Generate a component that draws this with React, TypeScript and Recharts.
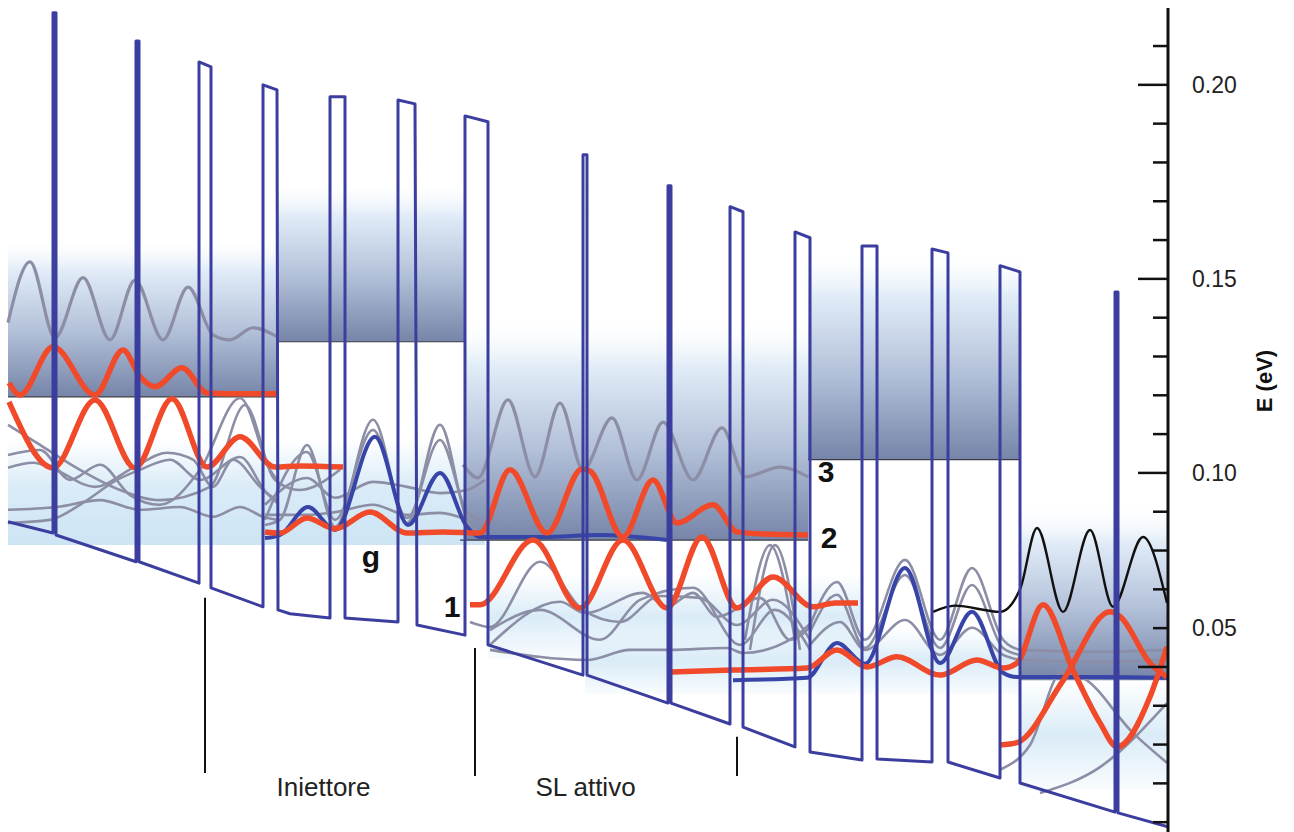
import React from 'react';
import { ComposedChart, Line, XAxis, YAxis, ReferenceArea, ReferenceLine, ReferenceDot } from 'recharts';

// x: position (nm), y: energy (meV); axis labels shown in eV
const bandProfile = [
  [0.8, 87.4], [5.3, 84.5], [5.3, 218.6], [5.6, 218.6], [5.6, 84.0],
  [13.6, 77.1], [13.6, 211.3], [13.9, 211.3], [13.9, 77.1],
  [19.9, 71.6], [19.9, 205.9], [21.1, 204.6], [21.1, 70.4],
  [26.3, 65.5], [26.3, 200.0], [27.7, 198.7], [27.8, 64.7], [29.0, 63.7],
  [33.0, 62.6], [33.0, 196.9], [34.5, 196.9], [34.5, 62.6],
  [39.8, 61.6], [39.8, 196.1], [41.5, 195.1], [41.7, 60.8],
  [46.5, 58.2], [46.5, 192.0], [48.8, 190.5], [48.8, 55.7],
  [58.3, 47.9], [58.3, 182.0], [58.7, 182.0], [58.7, 47.9],
  [66.8, 40.7], [66.8, 174.0], [67.1, 174.0], [67.1, 40.7],
  [73.0, 35.3], [73.0, 168.6], [74.3, 167.3], [74.3, 34.5],
  [79.5, 29.4], [79.5, 162.1], [81.0, 160.6], [81.0, 28.1],
  [86.2, 26.0], [86.2, 158.5], [87.7, 158.5], [87.7, 26.3],
  [93.2, 25.5], [93.2, 157.7], [94.8, 156.7], [94.8, 25.5],
  [100.0, 21.4], [100.0, 153.4], [102.0, 151.8], [102.0, 20.1],
  [111.5, 12.6], [111.5, 146.6], [111.8, 146.6], [111.8, 12.4],
  [116.8, 8.8],
];

const redUpperLeft = [[0.9, 123.2], [2.0, 120.1], [5.3, 132.5], [9.5, 120.1], [12.3, 131.7], [14.0, 124.8], [15.5, 122.2], [18.2, 127.1], [20.7, 120.6], [23.0, 120.4], [27.7, 120.4]];
const redLowerLeft = [[0.9, 118.3], [5.3, 101.3], [9.5, 118.8], [13.5, 101.3], [17.2, 119.1], [20.7, 101.5], [24.0, 109.3], [27.5, 101.5], [30.0, 101.8], [34.3, 101.5]];
const grayTopLeft = [[0.8, 138.7], [3.0, 154.4], [5.5, 134.8], [8.3, 150.3], [11.0, 134.3], [13.5, 149.7], [16.3, 134.3], [18.8, 147.9], [21.3, 135.6], [23.0, 134.3], [25.3, 137.4], [27.7, 135.1]];
const redG2 = [[26.5, 84.8], [28.0, 84.5], [30.7, 88.4], [33.5, 85.6], [37.0, 89.9], [40.7, 84.5], [44.3, 84.8], [48.0, 84.5], [51.0, 100.8], [54.7, 84.5], [58.2, 101.0], [59.0, 100.5], [62.3, 83.5], [65.3, 98.2], [67.7, 87.1], [71.3, 91.8], [73.7, 84.8], [76.0, 84.3], [80.8, 84.0]];
const blueG = [[26.5, 83.2], [28.0, 84.0], [30.8, 91.2], [33.5, 85.3], [37.5, 109.3], [40.8, 86.6], [44.0, 100.0], [46.7, 86.1], [48.0, 83.5], [54.3, 83.5], [60.0, 84.0], [66.7, 82.7]];
const red1 = [[47.0, 66.0], [48.0, 66.0], [53.3, 82.7], [58.0, 65.2], [62.3, 82.7], [66.7, 65.2], [70.2, 83.5], [73.7, 65.2], [77.3, 73.2], [81.3, 65.5], [83.5, 66.5], [85.8, 66.5]];
const gray3 = [[46.3, 102.1], [47.8, 98.7], [50.8, 118.8], [53.5, 99.0], [56.0, 118.0], [58.3, 100.8], [61.2, 114.2], [63.7, 98.2], [66.3, 113.1], [69.3, 98.2], [72.2, 111.6], [74.5, 99.0], [78.0, 101.5], [80.8, 99.0]];
const redRightA = [[67.2, 48.7], [73.3, 49.2], [80.7, 49.7], [83.7, 54.4], [86.7, 50.0], [89.7, 52.6], [94.0, 47.9], [97.7, 51.8], [100.3, 49.7], [101.7, 51.0], [104.3, 66.0], [107.3, 49.2], [110.0, 35.6], [111.7, 29.4], [115.0, 42.3], [116.7, 55.2]];
const redRightB = [[100.0, 29.9], [101.7, 30.5], [106.3, 46.5], [111.0, 64.2], [112.0, 63.0], [115.0, 51.0], [116.7, 47.4]];
const blueRight = [[73.3, 46.6], [80.7, 47.2], [83.7, 56.2], [86.5, 50.8], [90.5, 75.5], [94.0, 51.0], [97.2, 64.2], [100.3, 48.5], [101.7, 47.4], [110.0, 47.4], [116.7, 47.2]];
const blackRight = [[93.3, 64.2], [95.5, 65.8], [100.0, 64.2], [102.0, 70.0], [103.7, 85.8], [106.3, 64.2], [109.0, 85.3], [111.3, 65.5], [114.3, 83.5], [116.7, 66.5]];

const grayLeft1 = [[0.8, 101.3], [3.3, 102.6], [5.5, 100.8], [9.5, 96.4], [13.3, 101.3], [16.7, 105.2], [19.3, 103.4], [21.3, 96.4], [23.3, 103.4], [26.0, 96.4], [27.7, 92.3]];
const grayLeft2 = [[0.8, 90.5], [5.7, 91.2], [10.0, 93.0], [14.0, 90.5], [18.0, 91.2], [21.3, 88.7], [24.0, 91.2], [26.3, 88.7], [27.7, 87.9]];
const grayLeft3 = [[0.8, 87.1], [5.0, 87.9], [8.3, 92.3], [11.7, 98.2], [14.0, 100.8], [17.0, 103.4], [20.0, 98.2], [24.0, 104.1], [26.7, 94.8], [27.7, 93.0]];
const grayLeft4 = [[0.8, 104.6], [4.0, 105.9], [7.0, 98.2], [10.0, 102.1], [13.0, 94.3], [16.0, 91.8], [20.0, 100.8], [24.0, 119.3], [27.0, 100.8], [27.7, 98.2]];
const grayLeft5 = [[0.8, 112.4], [4.0, 107.2], [8.0, 100.8], [12.0, 95.6], [16.0, 93.0], [21.0, 96.4], [24.5, 117.5], [27.5, 98.2], [30.0, 95.6], [34.0, 100.8]];
const grayG1 = [[26.5, 86.6], [28.0, 87.9], [30.7, 107.2], [33.5, 86.1], [37.3, 113.7], [40.7, 87.1], [44.0, 112.4], [46.7, 87.9], [48.0, 84.5]];
const grayG2 = [[26.5, 87.9], [30.7, 105.4], [33.5, 87.9], [37.3, 111.1], [40.7, 88.4], [44.0, 108.5], [46.7, 89.9], [48.0, 87.9]];
const grayG3 = [[26.5, 91.8], [30.7, 98.7], [33.5, 93.6], [37.3, 97.7], [40.7, 96.4], [44.0, 94.8], [46.7, 95.6], [48.5, 98.2]];
const grayG4 = [[26.5, 89.2], [30.7, 89.2], [33.5, 89.9], [37.3, 91.8], [40.7, 89.2], [44.0, 89.7], [46.7, 87.9]];
const graySL1 = [[47.0, 61.6], [49.0, 60.3], [54.0, 77.1], [58.3, 64.7], [62.0, 61.6], [66.0, 68.3], [70.0, 67.8], [73.7, 60.8], [77.3, 67.3], [81.0, 57.0]];
const graySL2 = [[49.0, 55.7], [56.0, 66.8], [58.5, 63.9], [64.3, 69.1], [66.7, 65.5], [69.3, 69.1], [71.7, 62.9], [76.0, 67.8], [79.0, 57.0], [81.2, 60.8]];
const graySL3 = [[49.0, 54.4], [58.7, 51.8], [63.0, 54.4], [67.0, 54.4], [72.7, 54.9], [74.3, 53.6], [79.3, 57.5], [81.2, 61.6]];
const graySL4 = [[49.0, 59.5], [54.0, 64.7], [60.0, 57.0], [64.0, 67.3], [69.3, 70.4], [74.0, 55.7], [77.5, 64.7], [81.0, 54.4]];
const graySL5 = [[74.5, 57.0], [77.0, 81.4], [79.5, 57.0]];
const graySL6 = [[75.0, 54.4], [77.5, 81.4], [80.0, 54.4]];
const grayR1 = [[81.0, 60.8], [83.7, 71.9], [86.5, 57.0], [90.5, 77.6], [94.0, 57.0], [97.2, 75.5], [100.3, 57.0], [102.0, 54.4]];
const grayR2 = [[81.0, 59.0], [83.7, 68.6], [86.5, 54.9], [90.5, 73.7], [94.0, 54.9], [97.2, 71.1], [100.3, 54.9], [102.0, 53.1]];
const grayR3 = [[81.0, 55.7], [84.0, 61.6], [86.5, 54.4], [90.5, 62.1], [94.0, 53.1], [97.2, 60.1], [100.3, 53.1], [102.0, 51.8]];
const grayF1 = [[102.0, 54.4], [110.0, 53.9], [116.7, 54.4]];
const grayF2 = [[102.0, 51.8], [110.0, 51.3], [116.7, 51.8]];
const grayF3 = [[100.0, 23.5], [103.0, 29.9], [106.2, 48.7], [108.3, 47.2], [113.3, 33.0], [116.7, 25.3]];
const grayF4 = [[104.0, 17.5], [110.0, 24.2], [116.7, 40.7]];

const grayCurves = [grayLeft1, grayLeft2, grayLeft3, grayLeft4, grayLeft5, grayG1, grayG2, grayG3, grayG4, graySL1, graySL2, graySL3, graySL4, graySL5, graySL6, grayR1, grayR2, grayR3, grayF1, grayF2, grayF3, grayF4];

// shaded minibands: [x1, x2, yBottom, yTop]
const darkBands = [[0.8, 27.7, 119.6, 161.3], [27.7, 46.6, 133.8, 175.5], [46.6, 80.8, 82.7, 140.0], [80.8, 102.0, 103.4, 157.5], [102.0, 116.8, 46.6, 92.0]];
const lightBands = [[0.8, 48.5, 81.4, 108.5]];
const softBands = [[48.8, 86.0, 52.0, 74.0], [58.5, 102.0, 43.0, 60.0], [102.0, 116.8, 18.3, 46.6]];
const bandEdges = [[0.8, 27.7, 119.6], [27.7, 46.6, 133.8], [46.0, 80.8, 82.7], [80.8, 102.0, 103.4]];
const periodMarks = [[20.5, 67.8, 22.7], [47.5, 54.9, 21.9], [73.7, 32.0, 21.9]];
const stateLabels = [['g', 37.1, 78.4], ['1', 45.2, 65.7], ['3', 82.6, 100.3], ['2', 82.9, 83.5]];
const regionLabels = [['Iniettore', 32.35, 19.1], ['SL attivo', 58.55, 19.1]];

const yTicks = [10, 20, 30, 40, 50, 60, 70, 80, 90, 100, 110, 120, 130, 140, 150, 160, 170, 180, 190, 200, 210];
const tickLabels: Record<number, string> = { 200: '0.20', 150: '0.15', 100: '0.10', 60: '0.05' };
const majorTicks = [200, 150, 100, 50];

const FONT = '"Liberation Sans", Arial, Helvetica, sans-serif';
const toPts = (arr: number[][]) => arr.map(([x, y]) => ({ x, y }));

const AxisTick = (props: any) => {
  const { x, y, payload } = props;
  const v = payload.value;
  const len = majorTicks.includes(v) ? 30 : 15;
  const lbl = tickLabels[v];
  return (
    <g>
      <line x1={x - len} y1={y} x2={x} y2={y} stroke="#111" strokeWidth={2.5} />
      {lbl && (
        <text x={x + 24} y={y} dy="0.36em" fontSize={23} fontFamily={FONT} fill="#222" textAnchor="start">
          {lbl}
        </text>
      )}
    </g>
  );
};

const ELabel = (props: any) => {
  const vb = props.viewBox || { x: 1168, y: 8 };
  const cx = vb.x + 96;
  const cy = vb.y + 373;
  return (
    <text x={cx} y={cy} transform={`rotate(-90 ${cx} ${cy})`} textAnchor="middle" dominantBaseline="central" fontSize={22} fontWeight={700} fontFamily={FONT} fill="#111">
      E (eV)
    </text>
  );
};

export default function App() {
  return (
    <div style={{ position: 'absolute', left: 0, top: 0, width: 1294, height: 832, background: '#fff' }}>
      <ComposedChart width={1294} height={832} margin={{ top: 8, right: 0, bottom: 0, left: 0 }}>
        <defs>
          <linearGradient id="gDark" x1="0" y1="0" x2="0" y2="1">
            <stop offset="0" stopColor="#ffffff" stopOpacity={0} />
            <stop offset="0.22" stopColor="#dfebf7" stopOpacity={0.95} />
            <stop offset="0.6" stopColor="#b1bfd8" stopOpacity={1} />
            <stop offset="1" stopColor="#7685a8" stopOpacity={1} />
          </linearGradient>
          <linearGradient id="gLight" x1="0" y1="0" x2="0" y2="1">
            <stop offset="0" stopColor="#d3e8f6" stopOpacity={0} />
            <stop offset="0.45" stopColor="#d3e8f6" stopOpacity={0.85} />
            <stop offset="1" stopColor="#cde4f4" stopOpacity={1} />
          </linearGradient>
          <linearGradient id="gSoft" x1="0" y1="0" x2="0" y2="1">
            <stop offset="0" stopColor="#d6eaf7" stopOpacity={0} />
            <stop offset="0.5" stopColor="#d3e8f6" stopOpacity={0.85} />
            <stop offset="1" stopColor="#d6eaf7" stopOpacity={0.15} />
          </linearGradient>
        </defs>
        <XAxis dataKey="x" type="number" domain={[0, 116.8]} hide allowDataOverflow />
        <YAxis
          orientation="right"
          type="number"
          domain={[7.47, 219.8]}
          ticks={yTicks}
          interval={0}
          width={126}
          allowDataOverflow
          axisLine={{ stroke: '#111', strokeWidth: 3 }}
          tickLine={false}
          tickSize={0}
          tickMargin={0}
          tick={<AxisTick />}
          label={{ content: ELabel }}
        />
        {lightBands.map(([x1, x2, y1, y2], i) => (
          <ReferenceArea key={'l' + i} x1={x1} x2={x2} y1={y1} y2={y2} fill="url(#gLight)" fillOpacity={1} stroke="none" />
        ))}
        {softBands.map(([x1, x2, y1, y2], i) => (
          <ReferenceArea key={'s' + i} x1={x1} x2={x2} y1={y1} y2={y2} fill="url(#gSoft)" fillOpacity={1} stroke="none" />
        ))}
        {darkBands.map(([x1, x2, y1, y2], i) => (
          <ReferenceArea key={'d' + i} x1={x1} x2={x2} y1={y1} y2={y2} fill="url(#gDark)" fillOpacity={1} stroke="none" />
        ))}
        {bandEdges.map(([x1, x2, y], i) => (
          <ReferenceLine key={'e' + i} segment={[{ x: x1, y }, { x: x2, y }]} stroke="#3a3a44" strokeWidth={1.2} />
        ))}
        {periodMarks.map(([x, y1, y2], i) => (
          <ReferenceLine key={'p' + i} segment={[{ x, y: y1 }, { x, y: y2 }]} stroke="#111" strokeWidth={2} />
        ))}
        {grayCurves.map((c, i) => (
          <Line key={'g' + i} data={toPts(c)} dataKey="y" type="monotone" stroke="#8c8ea6" strokeWidth={2.6} dot={false} activeDot={false} isAnimationActive={false} />
        ))}
        <Line data={toPts(grayTopLeft)} dataKey="y" type="monotone" stroke="#8c8ea6" strokeWidth={3.2} dot={false} isAnimationActive={false} />
        <Line data={toPts(gray3)} dataKey="y" type="monotone" stroke="#8c8ea6" strokeWidth={3.2} dot={false} isAnimationActive={false} />
        <Line data={toPts(blackRight)} dataKey="y" type="monotone" stroke="#111111" strokeWidth={2.4} dot={false} isAnimationActive={false} />
        <Line data={toPts(blueG)} dataKey="y" type="monotone" stroke="#3744a8" strokeWidth={4} dot={false} isAnimationActive={false} />
        <Line data={toPts(blueRight)} dataKey="y" type="monotone" stroke="#3744a8" strokeWidth={4} dot={false} isAnimationActive={false} />
        <Line data={toPts(redUpperLeft)} dataKey="y" type="monotone" stroke="#f04a2a" strokeWidth={5.5} dot={false} isAnimationActive={false} />
        <Line data={toPts(redLowerLeft)} dataKey="y" type="monotone" stroke="#f04a2a" strokeWidth={5.5} dot={false} isAnimationActive={false} />
        <Line data={toPts(redG2)} dataKey="y" type="monotone" stroke="#f04a2a" strokeWidth={5.5} dot={false} isAnimationActive={false} />
        <Line data={toPts(red1)} dataKey="y" type="monotone" stroke="#f04a2a" strokeWidth={5.5} dot={false} isAnimationActive={false} />
        <Line data={toPts(redRightA)} dataKey="y" type="monotone" stroke="#f04a2a" strokeWidth={5.5} dot={false} isAnimationActive={false} />
        <Line data={toPts(redRightB)} dataKey="y" type="monotone" stroke="#f04a2a" strokeWidth={5.5} dot={false} isAnimationActive={false} />
        <Line data={toPts(bandProfile)} dataKey="y" type="linear" stroke="#3b3e9e" strokeWidth={3} strokeLinejoin="round" dot={false} isAnimationActive={false} />
        {stateLabels.map(([t, x, y]) => (
          <ReferenceDot key={'s' + t} x={x as number} y={y as number} r={0} fill="none" stroke="none"
            label={{ value: t as string, position: 'center', fontSize: 30, fontWeight: 700, fill: '#111', fontFamily: FONT }} />
        ))}
        {regionLabels.map(([t, x, y]) => (
          <ReferenceDot key={'r' + t} x={x as number} y={y as number} r={0} fill="none" stroke="none"
            label={{ value: t as string, position: 'center', fontSize: 26, fill: '#222', fontFamily: FONT }} />
        ))}
      </ComposedChart>
    </div>
  );
}
